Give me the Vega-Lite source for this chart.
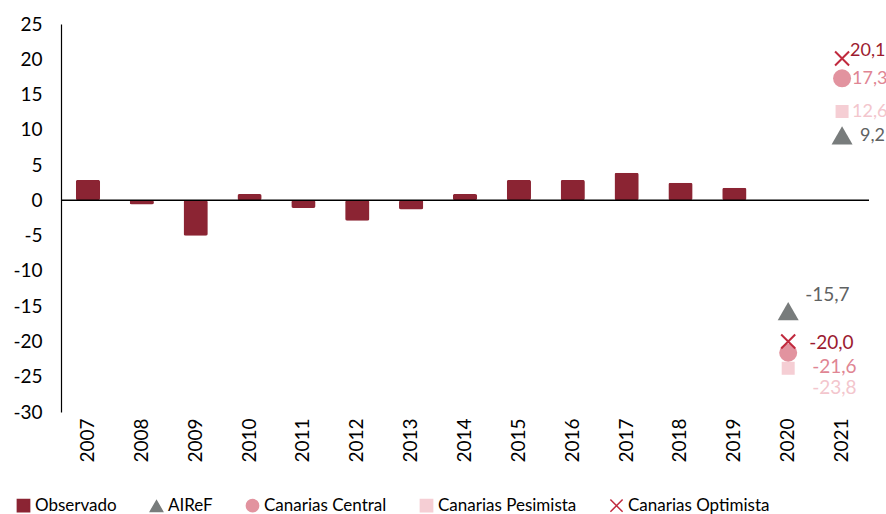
{
  "$schema": "https://vega.github.io/schema/vega-lite/v6.json",
  "width": 808,
  "height": 388,
  "autosize": {"type": "none"},
  "padding": {"left": 61, "top": 24, "right": 17, "bottom": 102},
  "config": {
    "locale": {"number": {"decimal": ",", "thousands": ".", "grouping": [3], "currency": ["", " €"], "minus": "-"}},
    "font": "Lato",
    "view": {"stroke": null},
    "axis": {"grid": false},
    "axisY": {"labelOverlap": false, "labelBound": false},
    "legend": {
      "orient": "none",
      "legendX": -46,
      "legendY": 473,
      "direction": "horizontal",
      "title": null,
      "labelFontSize": 17,
      "labelColor": "#000000",
      "labelOffset": 3,
      "columnPadding": 30,
      "symbolSize": 150,
      "symbolStrokeWidth": 1.5
    }
  },
  "datasets": {
    "obs": [
      {"year": "2007", "value": 2.9, "serie": "Observado"},
      {"year": "2008", "value": -0.6, "serie": "Observado"},
      {"year": "2009", "value": -5.0, "serie": "Observado"},
      {"year": "2010", "value": 0.9, "serie": "Observado"},
      {"year": "2011", "value": -1.1, "serie": "Observado"},
      {"year": "2012", "value": -2.9, "serie": "Observado"},
      {"year": "2013", "value": -1.3, "serie": "Observado"},
      {"year": "2014", "value": 0.9, "serie": "Observado"},
      {"year": "2015", "value": 2.9, "serie": "Observado"},
      {"year": "2016", "value": 2.9, "serie": "Observado"},
      {"year": "2017", "value": 3.9, "serie": "Observado"},
      {"year": "2018", "value": 2.5, "serie": "Observado"},
      {"year": "2019", "value": 1.8, "serie": "Observado"}
    ],
    "proj": [
      {"year": "2020", "value": -23.8, "serie": "Canarias Pesimista"},
      {"year": "2021", "value": 12.6, "serie": "Canarias Pesimista"},
      {"year": "2020", "value": -15.7, "serie": "AIReF"},
      {"year": "2021", "value": 9.2, "serie": "AIReF"},
      {"year": "2020", "value": -21.6, "serie": "Canarias Central"},
      {"year": "2021", "value": 17.3, "serie": "Canarias Central"},
      {"year": "2020", "value": -20.0, "serie": "Canarias Optimista"},
      {"year": "2021", "value": 20.1, "serie": "Canarias Optimista"}
    ],
    "zero": [{"value": 0}]
  },
  "encoding": {
    "y": {
      "field": "value", "type": "quantitative",
      "scale": {"domain": [-30, 25], "nice": false, "zero": false},
      "axis": {"title": null, "values": [-30,-25,-20,-15,-10,-5,0,5,10,15,20,25], "tickCount": 12, "format": "d", "ticks": false, "labelOverlap": false, "labelPadding": 19, "labelFontSize": 19, "labelColor": "#000000", "domainColor": "#000000", "domainWidth": 1.2}
    }
  },
  "layer": [
    {
      "data": {"name": "obs"},
      "mark": {"type": "bar", "cornerRadius": 2},
      "encoding": {
        "x": {
          "field": "year", "type": "ordinal",
          "scale": {"domain": ["2007","2008","2009","2010","2011","2012","2013","2014","2015","2016","2017","2018","2019","2020","2021"], "paddingInner": 0.55, "paddingOuter": 0.275},
          "axis": {"title": null, "domain": false, "ticks": false, "labelAngle": -90, "labelFontSize": 19, "labelColor": "#000000", "labelPadding": 6, "orient": "bottom"}
        },
        "fill": {
          "field": "serie", "type": "nominal",
          "scale": {"domain": ["Observado", "AIReF", "Canarias Central", "Canarias Pesimista", "Canarias Optimista"], "range": ["#8b2433", "#787c7c", "#e2939f", "#f5ced4", "#c02a3e"]}
        }
      }
    },
    {
      "data": {"name": "zero"},
      "mark": {"type": "rule", "color": "#000000", "strokeWidth": 1.5},
      "encoding": {}
    },
    {
      "data": {"name": "proj"},
      "transform": [{"filter": "datum.serie === 'Canarias Pesimista'"}],
      "mark": {"type": "point", "filled": true, "size": 169, "opacity": 1, "strokeWidth": 0},
      "encoding": {
        "x": {"field": "year", "type": "ordinal"},
        "fill": {"field": "serie", "type": "nominal"},
        "stroke": {"field": "serie", "type": "nominal", "scale": {"domain": ["Observado", "AIReF", "Canarias Central", "Canarias Pesimista", "Canarias Optimista"], "range": ["#8b2433", "#787c7c", "#e2939f", "#f5ced4", "#c02a3e"]}},
        "shape": {"field": "serie", "type": "nominal", "scale": {"domain": ["Observado", "AIReF", "Canarias Central", "Canarias Pesimista", "Canarias Optimista"], "range": ["square", "triangle-up", "circle", "square", "M-1,-1L1,1M-1,1L1,-1"]}}
      }
    },
    {
      "data": {"name": "proj"},
      "transform": [{"filter": "datum.serie === 'AIReF'"}],
      "mark": {"type": "point", "filled": true, "size": 441, "opacity": 1, "strokeWidth": 0},
      "encoding": {
        "x": {"field": "year", "type": "ordinal"},
        "fill": {"field": "serie", "type": "nominal"},
        "stroke": {"field": "serie", "type": "nominal"},
        "shape": {"field": "serie", "type": "nominal"}
      }
    },
    {
      "data": {"name": "proj"},
      "transform": [{"filter": "datum.serie === 'Canarias Central'"}],
      "mark": {"type": "point", "filled": true, "size": 324, "opacity": 1, "strokeWidth": 0},
      "encoding": {
        "x": {"field": "year", "type": "ordinal"},
        "fill": {"field": "serie", "type": "nominal"},
        "stroke": {"field": "serie", "type": "nominal"},
        "shape": {"field": "serie", "type": "nominal"}
      }
    },
    {
      "data": {"name": "proj"},
      "transform": [{"filter": "datum.serie === 'Canarias Optimista'"}],
      "mark": {"type": "point", "filled": true, "size": 196, "opacity": 1, "strokeWidth": 2},
      "encoding": {
        "x": {"field": "year", "type": "ordinal"},
        "fill": {"field": "serie", "type": "nominal"},
        "stroke": {"field": "serie", "type": "nominal"},
        "shape": {"field": "serie", "type": "nominal"}
      }
    },
    {
      "data": {"name": "proj"},
      "transform": [{"filter": "datum.serie === 'Canarias Optimista' && datum.year === '2021'"}],
      "mark": {"type": "text", "align": "left", "baseline": "middle", "dx": 8, "dy": -8, "fontSize": 18, "color": "#9c1b30"},
      "encoding": {"x": {"field": "year", "type": "ordinal"}, "text": {"field": "value", "type": "quantitative", "format": ".1f"}}
    },
    {
      "data": {"name": "proj"},
      "transform": [{"filter": "datum.serie === 'Canarias Central' && datum.year === '2021'"}],
      "mark": {"type": "text", "align": "left", "baseline": "middle", "dx": 10, "dy": 1, "fontSize": 18, "color": "#e08593"},
      "encoding": {"x": {"field": "year", "type": "ordinal"}, "text": {"field": "value", "type": "quantitative", "format": ".1f"}}
    },
    {
      "data": {"name": "proj"},
      "transform": [{"filter": "datum.serie === 'Canarias Pesimista' && datum.year === '2021'"}],
      "mark": {"type": "text", "align": "left", "baseline": "middle", "dx": 10, "dy": 1, "fontSize": 18, "color": "#f3c6cd"},
      "encoding": {"x": {"field": "year", "type": "ordinal"}, "text": {"field": "value", "type": "quantitative", "format": ".1f"}}
    },
    {
      "data": {"name": "proj"},
      "transform": [{"filter": "datum.serie === 'AIReF' && datum.year === '2021'"}],
      "mark": {"type": "text", "align": "left", "baseline": "middle", "dx": 18, "dy": 1, "fontSize": 18, "color": "#5f6262"},
      "encoding": {"x": {"field": "year", "type": "ordinal"}, "text": {"field": "value", "type": "quantitative", "format": ".1f"}}
    },
    {
      "data": {"name": "proj"},
      "transform": [{"filter": "datum.serie === 'AIReF' && datum.year === '2020'"}],
      "mark": {"type": "text", "align": "left", "baseline": "middle", "dx": 17, "dy": -16, "fontSize": 19, "color": "#5f6262"},
      "encoding": {"x": {"field": "year", "type": "ordinal"}, "text": {"field": "value", "type": "quantitative", "format": ".1f"}}
    },
    {
      "data": {"name": "proj"},
      "transform": [{"filter": "datum.serie === 'Canarias Optimista' && datum.year === '2020'"}],
      "mark": {"type": "text", "align": "left", "baseline": "middle", "dx": 21, "dy": 2, "fontSize": 19, "color": "#9c1b30"},
      "encoding": {"x": {"field": "year", "type": "ordinal"}, "text": {"field": "value", "type": "quantitative", "format": ".1f"}}
    },
    {
      "data": {"name": "proj"},
      "transform": [{"filter": "datum.serie === 'Canarias Central' && datum.year === '2020'"}],
      "mark": {"type": "text", "align": "left", "baseline": "middle", "dx": 24, "dy": 14, "fontSize": 19, "color": "#e08593"},
      "encoding": {"x": {"field": "year", "type": "ordinal"}, "text": {"field": "value", "type": "quantitative", "format": ".1f"}}
    },
    {
      "data": {"name": "proj"},
      "transform": [{"filter": "datum.serie === 'Canarias Pesimista' && datum.year === '2020'"}],
      "mark": {"type": "text", "align": "left", "baseline": "middle", "dx": 24, "dy": 20, "fontSize": 19, "color": "#f3c6cd"},
      "encoding": {"x": {"field": "year", "type": "ordinal"}, "text": {"field": "value", "type": "quantitative", "format": ".1f"}}
    }
  ]
}
